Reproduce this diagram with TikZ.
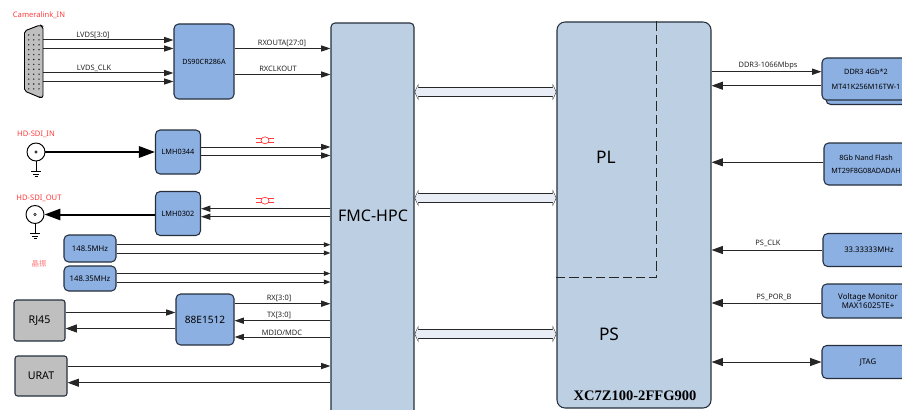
\documentclass[tikz,border=0pt]{standalone}
\usepackage{fontspec}
\setmainfont{Noto Sans}
\newfontfamily\cjk{Noto Sans CJK SC}
\newfontfamily\chipfont{Liberation Serif}
\usepackage{tikz}
\usetikzlibrary{arrows.meta}
\usepackage{xcolor}

\definecolor{blockblue}{HTML}{8DB0E3}
\definecolor{fpgablue}{HTML}{BDCFE3}
\definecolor{blockgray}{HTML}{BFBFBF}
\definecolor{busfill}{HTML}{E9EEF6}
\definecolor{labelred}{HTML}{FF3B3B}
\definecolor{edgedark}{HTML}{26303D}

\tikzset{
    boxsize/.style 2 args={minimum width=#1*0.75pt, minimum height=#2*0.75pt},
    block/.style={draw=edgedark, line width=0.8pt, fill=blockblue, rounded corners=3.5pt,
        inner sep=0pt, align=center, text=black, font=\fontsize{5.8}{10}\selectfont},
    grayblock/.style={block, fill=blockgray, rounded corners=2pt, font=\fontsize{8}{10}\selectfont},
    sig/.style={line width=0.75pt, color=black!85, -{Stealth[length=7pt, width=4.6pt, inset=0pt]}},
    sigsmall/.style={line width=0.75pt, color=black!85, -{Stealth[length=5pt, width=3.6pt, inset=0pt]}},
    sigbig/.style={line width=0.75pt, color=black!85, -{Stealth[length=8.5pt, width=6pt, inset=0pt]}},
    sigboth/.style={line width=0.75pt, color=black!85, {Stealth[length=8.5pt, width=6pt, inset=0pt]}-{Stealth[length=8.5pt, width=6pt, inset=0pt]}},
    thicksig/.style={line width=1.5pt, color=black, -{Stealth[length=12pt, width=8.5pt, inset=0pt]}},
    busedge/.style={line width=7pt, color=black!85, {Triangle[length=2.8pt, width=12pt]}-{Triangle[length=2.8pt, width=12pt]}},
    businner/.style={line width=5.6pt, color=busfill, shorten <=0.5pt, shorten >=0.5pt, {Triangle[length=2.2pt, width=10.2pt]}-{Triangle[length=2.2pt, width=10.2pt]}},
    siglabel/.style={inner sep=0pt, text=black!85, font=\fontsize{5.6}{6}\selectfont},
    redlabel/.style={inner sep=0pt, text=labelred, font=\fontsize{5.7}{6}\selectfont},
    bnc/.style={draw=black, line width=0.7pt, fill=white, circle, inner sep=0pt, minimum size=13.5pt}
}

\begin{document}
\begin{tikzpicture}[x=0.75pt, y=-0.75pt]
    \useasboundingbox (0,0) rectangle (902,410);

    % Main blocks
    \node[block, fill=fpgablue, rounded corners=3pt, boxsize={83}{420}] (fmc) at (372.5,233) {};
    \node[block, fill=fpgablue, rounded corners=6pt, boxsize={154}{386}] (zynq) at (634,215) {};
    \draw[dash pattern=on 7pt off 3pt, line width=0.7pt, color=black!85] (zynq.north -| 656,0) -- (656,277.5) -- (zynq.west |- 0,277.5);
    \node[inner sep=0pt, font=\fontsize{12}{14}\selectfont] (fmclabel) at (373,216) {FMC-HPC};
    \node[inner sep=0pt, font=\fontsize{13}{15}\selectfont] (pl) at (606,157) {PL};
    \node[inner sep=0pt, font=\fontsize{13}{15}\selectfont] (ps) at (609,334) {PS};
    \node[inner sep=0pt, font=\fontsize{10.9}{12}\selectfont\chipfont\bfseries] (chip) at (635,396) {XC7Z100-2FFG900};

    % Camera Link input
    \node[redlabel] (camlabel) at (39,15) {Cameralink\_IN};
    \draw[line width=0.7pt, fill=blockgray, rounded corners=1.5pt] (24.5,31) -- (40,25) -- (43,26.5) -- (43,97.5) -- (40,97.5) -- (24.5,91) -- cycle;
    \foreach \row in {35,39.9,...,89} {
        \foreach \col in {28.7,33.7,39} {
            \fill[black!85] (\col,\row) circle (0.6pt);
        }
    }
    \coordinate (cam) at (43,61);
    \node[block, font=\fontsize{5.4}{7}\selectfont\bfseries, boxsize={60}{75}] (ds) at (204,61.5) {DS90CR286A};
    \foreach \y in {40,48.5,73,81.5} {
        \draw[sig] (cam |- 0,\y) -- (ds.west |- 0,\y);
    }
    \node[siglabel] (lvdsdata) at (93,35) {LVDS[3:0]};
    \node[siglabel] (lvdsclk) at (94,68) {LVDS\_CLK};
    \draw[sig] (ds.east |- 0,48.5) -- (fmc.west |- 0,48.5);
    \draw[sig] (ds.east |- 0,74.5) -- (fmc.west |- 0,74.5);
    \node[siglabel] (rxouta) at (282,43) {RXOUTA[27:0]};
    \node[siglabel] (rxclk) at (278,69) {RXCLKOUT};

    % SDI input
    \node[redlabel] (sdiinlabel) at (36,134) {HD-SDI\_IN};
    \node[bnc] (sdiin) at (36,152) {};
    \fill (sdiin) circle (1.2pt);
    \fill[white] (sdiin) circle (0.5pt);
    \draw[line width=0.6pt] (sdiin.south) -- (36,171) (31,171) -- (41,171) (33,174) -- (39,174) (34.5,176.5) -- (37.5,176.5);
    \node[block, font=\fontsize{5.5}{7}\selectfont, boxsize={45}{44}] (lmhin) at (178,152) {LMH0344};
    \draw[thicksig] (sdiin) -- (lmhin);
    \draw[sig] (lmhin.east |- 0,147) -- (fmc.west |- 0,147);
    \draw[sig] (lmhin.east |- 0,155.5) -- (fmc.west |- 0,155.5);

    % SDI output
    \node[redlabel] (sdioutlabel) at (39,198) {HD-SDI\_OUT};
    \node[bnc] (sdiout) at (35,214.5) {};
    \fill (sdiout) circle (1.2pt);
    \fill[white] (sdiout) circle (0.5pt);
    \draw[line width=0.6pt] (sdiout.south) -- (35,233) (30,233) -- (40,233) (32,236) -- (38,236) (33.5,238.5) -- (36.5,238.5);
    \node[block, font=\fontsize{5.5}{7}\selectfont, boxsize={45}{44}] (lmhout) at (178,213.5) {LMH0302};
    \draw[thicksig] (lmhout.west |- sdiout) -- (sdiout);
    \draw[sig] (fmc.west |- 0,208.7) -- (lmhout.east |- 0,208.7);
    \draw[sig] (fmc.west |- 0,216.7) -- (lmhout.east |- 0,216.7);

    % Differential pair marks
    \foreach \y in {140.3,200.7} {
        \draw[labelred, line width=0.5pt] (256,\y-2) -- (262,\y-2) (256,\y+2) -- (262,\y+2)
            (268,\y-2) -- (274,\y-2) (268,\y+2) -- (274,\y+2);
        \draw[labelred, line width=0.5pt] (265,\y) ellipse (3pt and 2.6pt);
    }

    % Oscillators
    \node[block, boxsize={52}{27}] (oscone) at (90,248.5) {148.5MHz};
    \node[block, boxsize={52}{25}] (osctwo) at (90,278.5) {148.35MHz};
    \node[redlabel, text=labelred!70, font=\fontsize{5.6}{7}\selectfont\cjk] (osclabel) at (39,264) {晶振};
    \draw[sigsmall] (oscone.east |- 0,244.7) -- (fmc.west |- 0,244.7);
    \draw[sigsmall] (oscone.east |- 0,253) -- (fmc.west |- 0,253);
    \draw[sigsmall] (osctwo.east |- 0,273.5) -- (fmc.west |- 0,273.5);
    \draw[sigsmall] (osctwo.east |- 0,282) -- (fmc.west |- 0,282);

    % Ethernet
    \node[grayblock, boxsize={51}{41}] (rj) at (39.5,320.5) {RJ45};
    \node[block, font=\fontsize{7.6}{9}\selectfont, boxsize={58}{51}] (phy) at (205,319.5) {88E1512};
    \draw[sig] (rj.east |- 0,312.5) -- (phy.west |- 0,312.5);
    \draw[sigbig] (phy.west |- 0,328.5) -- (rj.east |- 0,328.5);
    \draw[sig] (phy.east |- 0,303.7) -- (fmc.west |- 0,303.7);
    \draw[sig] (fmc.west |- 0,320.7) -- (phy.east |- 0,320.7);
    \draw[sig] (fmc.west |- 0,337) -- (phy.east |- 0,337);
    \node[siglabel] (rxlabel) at (279,298) {RX[3:0]};
    \node[siglabel] (txlabel) at (279,315) {TX[3:0]};
    \node[siglabel] (mdiolabel) at (282,333) {MDIO/MDC};

    % UART
    \node[grayblock, boxsize={52}{40}] (urat) at (41,376) {URAT};
    \draw[sig] (urat.east |- 0,366) -- (fmc.west |- 0,366);
    \draw[sigbig] (fmc.west |- 0,382.7) -- (urat.east |- 0,382.7);

    % Links between FMC and the device
    \foreach \y in {92,198,334} {
        \draw[busedge] (fmc.east |- 0,\y) -- (zynq.west |- 0,\y);
        \draw[businner] (fmc.east |- 0,\y) -- (zynq.west |- 0,\y);
    }

    % Memory and peripherals on the right
    \node[block, boxsize={92}{42}] (ddrback) at (872,83.5) {};
    \node[block, font=\fontsize{5.5}{11}\selectfont, boxsize={88}{42}] (ddr) at (866,79) {DDR3 4Gb*2\\MT41K256M16TW-1};
    \draw[sig] (zynq.east |- 0,71.7) -- (ddr.west |- 0,71.7);
    \draw[sigbig] (ddr.west |- 0,85.7) -- (zynq.east |- 0,85.7);
    \node[siglabel] (ddrlabel) at (768,66) {DDR3-1066Mbps};
    \node[block, font=\fontsize{5.4}{10}\selectfont, boxsize={84}{42}] (nand) at (866,164) {8Gb Nand Flash\\MT29F8G08ADADAH};
    \draw[sigbig] (nand.west |- 0,162.3) -- (zynq.east |- 0,162.3);
    \node[block, boxsize={92}{33}] (psclk) at (869,250) {33.33333MHz};
    \draw[sigbig] (psclk) -- (zynq.east |- psclk);
    \node[siglabel] (psclklabel) at (768,243) {PS\_CLK};
    \node[block, font=\fontsize{5.9}{7}\selectfont, boxsize={92}{34}] (monitor) at (868,301) {Voltage Monitor\\MAX16025TE+};
    \draw[sigbig] (monitor.west |- 0,303) -- (zynq.east |- 0,303);
    \node[siglabel] (porlabel) at (774,297) {PS\_POR\_B};
    \node[block, boxsize={92}{33}] (jtag) at (868,362) {JTAG};
    \draw[sigboth] (zynq.east |- jtag) -- (jtag);
\end{tikzpicture}
\end{document}
